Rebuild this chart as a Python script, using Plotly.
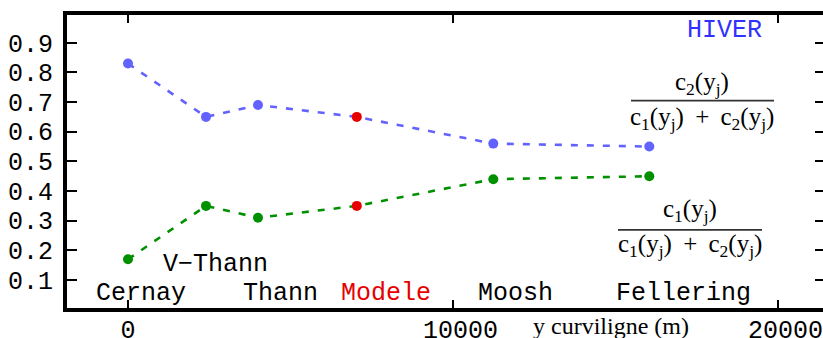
import plotly.graph_objects as go

# Distance along the valley (m) and the share of each component at each station
distance_m = [0, 2400, 4000, 7040, 11240, 16040]
share_c2 = [0.83, 0.65, 0.69, 0.65, 0.56, 0.55]
share_c1 = [0.17, 0.35, 0.31, 0.35, 0.44, 0.45]
is_model = [False, False, False, True, False, False]

# Station names written along the bottom of the frame
station_names = ["Cernay", "V\u2212Thann", "Thann", "Modele", "Moosh", "Fellering"]
station_label_x = [415, 2680, 4700, 7940, 11920, 17100]
station_label_y = [0.055, 0.152, 0.055, 0.055, 0.055, 0.055]
station_label_color = ["black", "black", "black", "#e60000", "black", "black"]

x_tick_vals = [0, 10000, 20000]
x_tick_text = ["0", "\u00a010000", "\u00a020000"]
y_tick_vals = [0.1, 0.2, 0.3, 0.4, 0.5, 0.6, 0.7, 0.8, 0.9]
y_tick_text = ["0.1", "0.2", "0.3", "0.4", "0.5", "0.6", "0.7", "0.8", "0.9"]

BLUE = "#6262ff"
GREEN = "#009000"
RED = "#e60000"
MONO = "Liberation Mono, Courier New, monospace"
SERIF = "Liberation Serif, Times New Roman, serif"

x_range = [-1877, 21385]
y_range = [0.0057, 0.9936]

fig = go.Figure()

for values, colour in ((share_c2, BLUE), (share_c1, GREEN)):
    fig.add_trace(go.Scatter(
        x=distance_m, y=values, mode="lines+markers",
        line=dict(color=colour, width=2.6, dash="7px,9px"),
        marker=dict(size=10, color=[RED if m else colour for m in is_model]),
        showlegend=False, hoverinfo="skip",
    ))

# carrier trace for the right-hand tick axis
fig.add_trace(go.Scatter(x=[None], y=[None], yaxis="y2", showlegend=False, hoverinfo="skip"))

annotations = []
for name, lx, ly, col in zip(station_names, station_label_x, station_label_y, station_label_color):
    annotations.append(dict(x=lx, y=ly, xref="x", yref="y", text=name, showarrow=False,
                            xanchor="center", yanchor="middle",
                            font=dict(family=MONO, size=25, color=col)))

annotations.append(dict(x=18340, y=0.94, xref="x", yref="y", text="HIVER", showarrow=False,
                        xanchor="center", yanchor="middle",
                        font=dict(family=MONO, size=25, color="#3030ff")))

sp = " \u2009"
num2 = "c<sub>2</sub>(y<sub>j</sub>)"
num1 = "c<sub>1</sub>(y<sub>j</sub>)"
den = "c<sub>1</sub>(y<sub>j</sub>)" + sp + "+" + sp + "c<sub>2</sub>(y<sub>j</sub>)"

fraction_parts = [
    (17662, 0.764, num2), (17662, 0.646, den),
    (17292, 0.336, num1), (17292, 0.218, den),
]
for fx, fy, txt in fraction_parts:
    annotations.append(dict(x=fx, y=fy, xref="x", yref="y", text=txt, showarrow=False,
                            xanchor="center", yanchor="middle",
                            font=dict(family=SERIF, size=25, color="black")))

annotations.append(dict(x=14860, y=-0.061, xref="x", yref="paper", text="y curviligne (m)",
                        showarrow=False, xanchor="center", yanchor="middle",
                        font=dict(family=SERIF, size=24, color="black")))

fraction_bars = [(15477, 19877, 0.705), (15077, 19508, 0.269)]
shapes = [dict(type="line", xref="x", yref="y", x0=a, x1=b, y0=yy, y1=yy,
               line=dict(color="#333333", width=1.6)) for a, b, yy in fraction_bars]

fig.update_layout(
    width=823, height=338,
    margin=dict(l=67, r=0, t=15, b=30, pad=0),
    paper_bgcolor="white", plot_bgcolor="white",
    showlegend=False,
    annotations=annotations,
    shapes=shapes,
    xaxis=dict(
        range=x_range, showgrid=False, zeroline=False, automargin=False,
        showline=True, linewidth=4, linecolor="black", mirror="ticks",
        ticks="inside", ticklen=8, tickwidth=2.2, tickcolor="black",
        tickvals=x_tick_vals, ticktext=x_tick_text,
        tickfont=dict(family=MONO, size=25, color="black"),
        ticklabelstandoff=-4,
    ),
    yaxis=dict(
        range=y_range, showgrid=False, zeroline=False, automargin=False,
        showline=True, linewidth=4, linecolor="black", mirror=False,
        ticks="inside", ticklen=10, tickwidth=2.2, tickcolor="black",
        tickvals=y_tick_vals, ticktext=y_tick_text,
        tickfont=dict(family=MONO, size=25, color="black"),
        ticklabelstandoff=5,
    ),
    yaxis2=dict(
        range=y_range, overlaying="y", side="right", anchor="x", automargin=False,
        showgrid=False, zeroline=False, showline=False,
        ticks="inside", ticklen=8, tickwidth=2.2, tickcolor="black",
        tickvals=y_tick_vals, showticklabels=False,
    ),
)

fig.write_html("out.html")
